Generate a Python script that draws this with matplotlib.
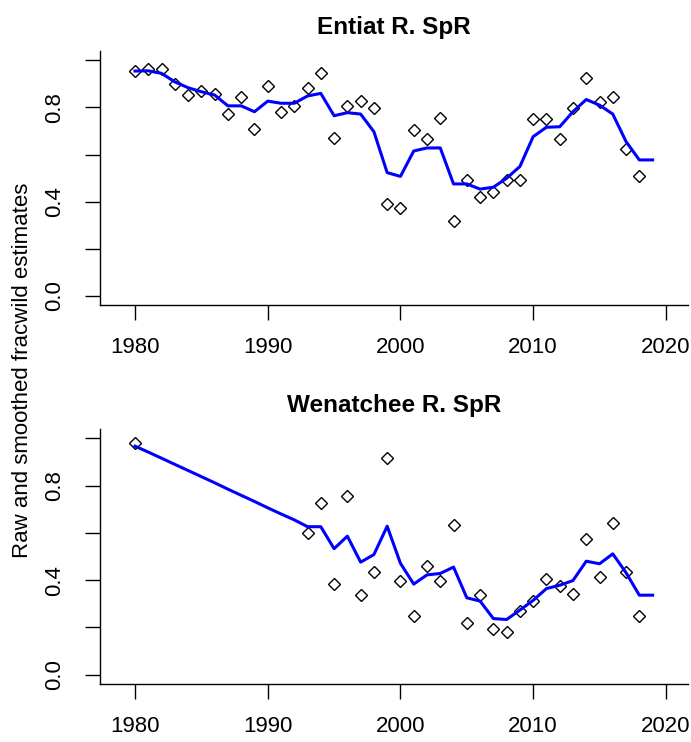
import numpy as np
import matplotlib.pyplot as plt

plt.rcParams['font.family'] = ['Liberation Sans', 'DejaVu Sans']

years = np.arange(1980, 2020)

# Entiat R. spring chinook: raw fracwild estimates (no estimate for 2019)
entiat_years = np.arange(1980, 2019)
entiat_raw = [0.955, 0.963, 0.962, 0.898, 0.851, 0.868, 0.856, 0.772, 0.844, 0.710,
              0.892, 0.781, 0.805, 0.884, 0.948, 0.672, 0.806, 0.829, 0.796, 0.388,
              0.372, 0.703, 0.665, 0.757, 0.317, 0.491, 0.420, 0.441, 0.491, 0.491,
              0.751, 0.751, 0.665, 0.796, 0.924, 0.823, 0.844, 0.624, 0.508]
entiat_smooth = [0.955, 0.956, 0.945, 0.909, 0.884, 0.867, 0.853, 0.807, 0.807, 0.782,
                 0.827, 0.818, 0.818, 0.849, 0.860, 0.765, 0.778, 0.772, 0.697, 0.523,
                 0.507, 0.615, 0.628, 0.628, 0.475, 0.475, 0.453, 0.461, 0.499, 0.549,
                 0.676, 0.716, 0.718, 0.782, 0.834, 0.810, 0.772, 0.655, 0.577, 0.577]

# Wenatchee R. spring chinook: raw estimates only for 1980 and 1993-2018
wen_years = [1980] + list(range(1993, 2019))
wen_raw = [0.979,
           0.600, 0.727, 0.383, 0.758, 0.336, 0.436, 0.915, 0.397, 0.247, 0.461,
           0.397, 0.633, 0.219, 0.336, 0.194, 0.178, 0.271, 0.312, 0.405, 0.374,
           0.343, 0.572, 0.414, 0.641, 0.436, 0.247]
wen_smooth = [0.967, 0.942, 0.916, 0.890, 0.864, 0.838, 0.812, 0.785, 0.759, 0.733,
              0.706, 0.680, 0.655, 0.626, 0.626, 0.533, 0.586, 0.476, 0.508, 0.628,
              0.471, 0.383, 0.422, 0.428, 0.455, 0.325, 0.311, 0.237, 0.233, 0.273,
              0.314, 0.364, 0.378, 0.398, 0.480, 0.469, 0.511, 0.431, 0.336, 0.336]

yticks = [0.0, 0.2, 0.4, 0.6, 0.8, 1.0]
ytick_labels = ['0.0', '', '0.4', '', '0.8', '']
xticks = [1980, 1990, 2000, 2010, 2020]

fig = plt.figure(figsize=(6.91, 7.42), dpi=100)
ax1 = fig.add_axes([0.1447, 0.5889, 0.851, 0.3423])
ax2 = fig.add_axes([0.1447, 0.0782, 0.851, 0.3437])


def draw_panel(ax, yr_raw, raw, smooth, title):
    ax.plot(yr_raw, raw, linestyle='none', marker='D', ms=6.3, mfc='none',
            mec='black', mew=1.0)
    ax.plot(years, smooth, color='#0000ff', lw=2.2)
    ax.set_xlim(1977.36, 2021.67)
    ax.set_ylim(-0.04, 1.04)
    ax.set_xticks(xticks)
    ax.set_yticks(yticks)
    ax.set_yticklabels(ytick_labels, rotation=90, va='center')
    ax.tick_params(direction='out', length=11, width=1.0, labelsize=16, pad=12)
    ax.tick_params(axis='y', pad=14)
    for s in ['top', 'right']:
        ax.spines[s].set_visible(False)
    for s in ['left', 'bottom']:
        ax.spines[s].set_linewidth(1.0)
    ax.set_title(title, fontsize=17.5, fontweight='bold', pad=12)


draw_panel(ax1, entiat_years, entiat_raw, entiat_smooth, 'Entiat R. SpR')
draw_panel(ax2, wen_years, wen_raw, wen_smooth, 'Wenatchee R. SpR')

fig.text(0.033, 0.5013, 'Raw and smoothed fracwild estimates', rotation=90,
         ha='center', va='center', fontsize=16)

fig.savefig('out.png', dpi=100)
